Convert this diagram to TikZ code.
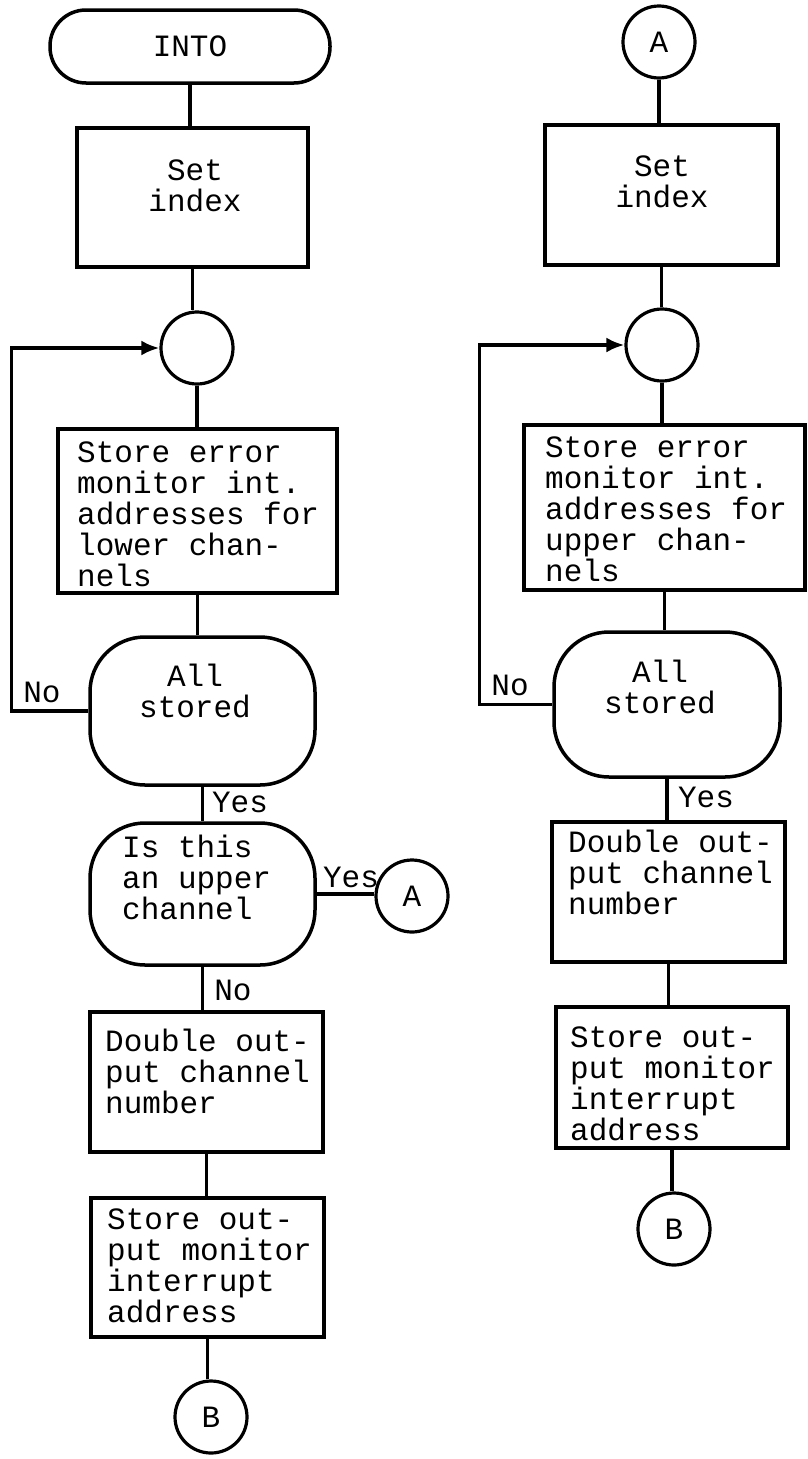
\documentclass[tikz,border=0pt]{standalone}
\usepackage{fontspec}
\setmonofont{Liberation Mono}
\usetikzlibrary{arrows.meta,calc}
\newcommand\flowfont{\ttfamily\fontsize{31}{31}\selectfont}
\tikzset{
 flow/.style={line width=3.5pt},
 loopflow/.style={line width=3.5pt,-{Latex[length=18pt,width=15pt]}},
 boxnode/.style={draw, line width=3.5pt, rectangle, inner sep=0pt},
 roundnode/.style={draw, line width=3.5pt, rectangle, rounded corners=55pt, inner sep=0pt},
 termnode/.style={draw, line width=3.5pt, rectangle, rounded corners=36pt, minimum width=280pt, minimum height=73pt, font=\flowfont},
 conn/.style={draw, line width=3.2pt, circle, minimum size=72pt, inner sep=0pt, font=\flowfont},
 txt/.style={font=\flowfont, align=left, inner sep=0pt, anchor=west, execute at begin node=\strut, execute at end node=\strut},
 ctxt/.style={txt, align=center, anchor=center},
 lbl/.style={font=\flowfont, inner sep=0pt},
}
\begin{document}
\begin{tikzpicture}[x=1pt,y=-1pt]
\useasboundingbox (0,0) rectangle (807,1459);
% ---------- left column ----------
\node[termnode] (into) at (190,46.5) {INTO};
\node[boxnode, minimum width=231pt, minimum height=139pt] (setL) at (192.5,197.5) {};
\node[ctxt] (setLt) at (195,190) {Set\\index};
\node[conn] (jL) at (197,348) {};
\node[boxnode, minimum width=279pt, minimum height=164pt] (errL) at (197.5,511) {};
\node[txt] (errLt) at (77,519) {Store error\\monitor int.\\addresses for\\lower chan-\\nels};
\node[roundnode, minimum width=225pt, minimum height=148pt] (allL) at (202.5,711) {};
\node[ctxt] (allLt) at (195,695) {All\\stored};
\node[roundnode, minimum width=225pt, minimum height=142pt] (upL) at (202.5,894) {};
\node[txt] (upLt) at (122,882) {Is this\\an upper\\channel};
\node[boxnode, minimum width=233pt, minimum height=140pt] (dblL) at (206.5,1082) {};
\node[txt] (dblLt) at (105,1075.5) {Double out-\\put channel\\number};
\node[boxnode, minimum width=233pt, minimum height=139pt] (stoL) at (207.5,1267.5) {};
\node[txt] (stoLt) at (107,1270.5) {Store out-\\put monitor\\interrupt\\address};
\node[conn] (BL) at (211,1417) {B};
\node[conn] (AL) at (412,896) {A};
\node[lbl] (noL) at (42,692) {No};
\node[lbl] (yesL1) at (240,802) {Yes};
\node[lbl] (yesL2) at (351,877) {Yes};
\node[lbl] (noL2) at (233,990) {No};
\draw[flow] (into.south) -- (into.south |- setL.north);
\draw[flow] (setL.south) -- (setL.south |- jL.north);
\draw[flow] (jL.south) -- (jL.south |- errL.north);
\draw[flow] (errL.south) -- (errL.south |- allL.north);
\draw[flow] (allL.south) -- (allL.south |- upL.north);
\draw[flow] (upL.south) -- (upL.south |- dblL.north);
\draw[flow] (dblL.south) -- (dblL.south |- stoL.north);
\draw[flow] (stoL.south) -- (stoL.south |- BL.north);
\draw[loopflow] (allL.west) -- ++(-77,0) |- (jL.west);
\draw[flow] (upL.east) -- (upL.east -| AL.west);
% ---------- right column ----------
\node[conn] (AR) at (659,42) {A};
\node[boxnode, minimum width=233pt, minimum height=140pt] (setR) at (661.5,195) {};
\node[ctxt] (setRt) at (662,186) {Set\\index};
\node[conn] (jR) at (662,345) {};
\node[boxnode, minimum width=281pt, minimum height=165pt] (errR) at (664.5,507.5) {};
\node[txt] (errRt) at (545,513.5) {Store error\\monitor int.\\addresses for\\upper chan-\\nels};
\node[roundnode, minimum width=226pt, minimum height=145pt] (allR) at (667,704.5) {};
\node[ctxt] (allRt) at (660,691) {All\\stored};
\node[boxnode, minimum width=233pt, minimum height=140pt] (dblR) at (668.5,892) {};
\node[txt] (dblRt) at (568,877) {Double out-\\put channel\\number};
\node[boxnode, minimum width=232pt, minimum height=141pt] (stoR) at (672,1077.5) {};
\node[txt] (stoRt) at (570,1088.5) {Store out-\\put monitor\\interrupt\\address};
\node[conn] (BR) at (674,1229) {B};
\node[lbl] (noR) at (510,685) {No};
\node[lbl] (yesR) at (706,797) {Yes};
\draw[flow] (AR.south) -- (AR.south |- setR.north);
\draw[flow] (setR.south) -- (setR.south |- jR.north);
\draw[flow] (jR.south) -- (jR.south |- errR.north);
\draw[flow] (errR.south) -- (errR.south |- allR.north);
\draw[flow] (allR.south) -- (allR.south |- dblR.north);
\draw[flow] (dblR.south) -- (dblR.south |- stoR.north);
\draw[flow] (stoR.south) -- (stoR.south |- BR.north);
\draw[loopflow] (allR.west) -- ++(-73,0) |- (jR.west);
\end{tikzpicture}
\end{document}
